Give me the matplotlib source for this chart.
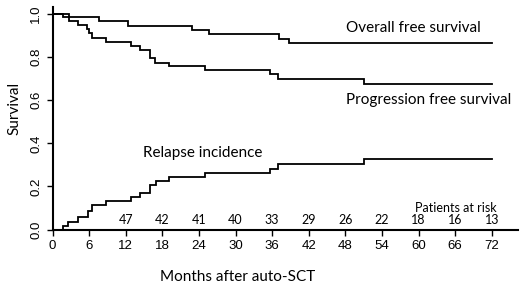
import matplotlib
matplotlib.use("Agg")
import matplotlib.pyplot as plt

# Overall survival
os_t = [0, 2.75, 7.7, 12.3, 22.8, 25.7, 37.2, 38.8]
os_s = [1.0, 0.985, 0.966, 0.946, 0.925, 0.907, 0.884, 0.864]
# Progression free survival
pfs_t = [0, 1.67, 2.75, 4.1, 5.6, 6.0, 6.4, 8.7, 12.8, 14.3, 16.0, 16.8, 19.1, 25.0, 35.7, 37.0, 51.0]
pfs_s = [1.0, 0.985, 0.966, 0.949, 0.929, 0.91, 0.89, 0.871, 0.853, 0.833, 0.794, 0.775, 0.758, 0.74, 0.721, 0.70, 0.674]
# Relapse incidence
ri_t = [0, 1.67, 2.6, 4.1, 5.9, 6.4, 8.7, 12.8, 14.3, 16.0, 17.0, 19.1, 25.0, 35.7, 37.0, 51.0]
ri_s = [0, 0.014, 0.034, 0.057, 0.088, 0.112, 0.13, 0.15, 0.169, 0.208, 0.223, 0.243, 0.264, 0.282, 0.306, 0.329]
t_end = 72

risk_months = [12, 18, 24, 30, 36, 42, 48, 54, 60, 66, 72]
risk_counts = [47, 42, 41, 40, 33, 29, 26, 22, 18, 16, 13]

x_ticks = list(range(0, 73, 6))
y_ticks = [0.0, 0.2, 0.4, 0.6, 0.8, 1.0]

W, H = 520, 284
fig = plt.figure(figsize=(W / 100, H / 100), dpi=100)
ax = fig.add_axes([52.5 / W, 1 - 229.5 / H, (518 - 52.5) / W, (229.5 - 7) / H])

tick_font = "Liberation Sans"
txt_font = "Lato"

for t, s in [(os_t, os_s), (pfs_t, pfs_s), (ri_t, ri_s)]:
    ax.step(list(t) + [t_end], list(s) + [s[-1]], where="post", color="black", lw=1.3,
            solid_joinstyle="miter", clip_on=False)

ax.set_xlim(0, 76.3)
ax.set_ylim(0, 1.033)
ax.spines["top"].set_visible(False)
ax.spines["right"].set_visible(False)
for sp in ("left", "bottom"):
    ax.spines[sp].set_linewidth(1.5)
ax.set_xticks(x_ticks)
ax.set_xticklabels([str(v) for v in x_ticks], fontfamily=tick_font, fontsize=9.5)
ax.set_yticks(y_ticks)
ax.set_yticklabels([f"{v:.1f}" for v in y_ticks], fontfamily=tick_font, fontsize=9.5,
                   rotation=90, va="center")
ax.tick_params(axis="both", length=4.5, width=1.0, direction="out", pad=3)

for m, c in zip(risk_months, risk_counts):
    ax.text(m, 0.045, str(c), ha="center", va="center", fontsize=9, fontfamily=txt_font)

ax.text(59.1, 0.935, "Overall free survival", ha="center", va="center", fontsize=11, fontfamily=txt_font)
ax.text(61.6, 0.600, "Progression free survival", ha="center", va="center", fontsize=11, fontfamily=txt_font)
ax.text(14.8, 0.353, "Relapse incidence", ha="left", va="center", fontsize=11, fontfamily=txt_font)
ax.text(66.1, 0.102, "Patients at risk", ha="center", va="center", fontsize=9, fontfamily=txt_font)

fig.text(238 / W, 1 - 277 / H, "Months after auto-SCT", ha="center", va="center",
         fontsize=11, fontfamily=txt_font)
fig.text(14 / W, 1 - 108 / H, "Survival", ha="center", va="center", rotation=90,
         fontsize=11, fontfamily=txt_font)

fig.savefig("out.png", dpi=100)
